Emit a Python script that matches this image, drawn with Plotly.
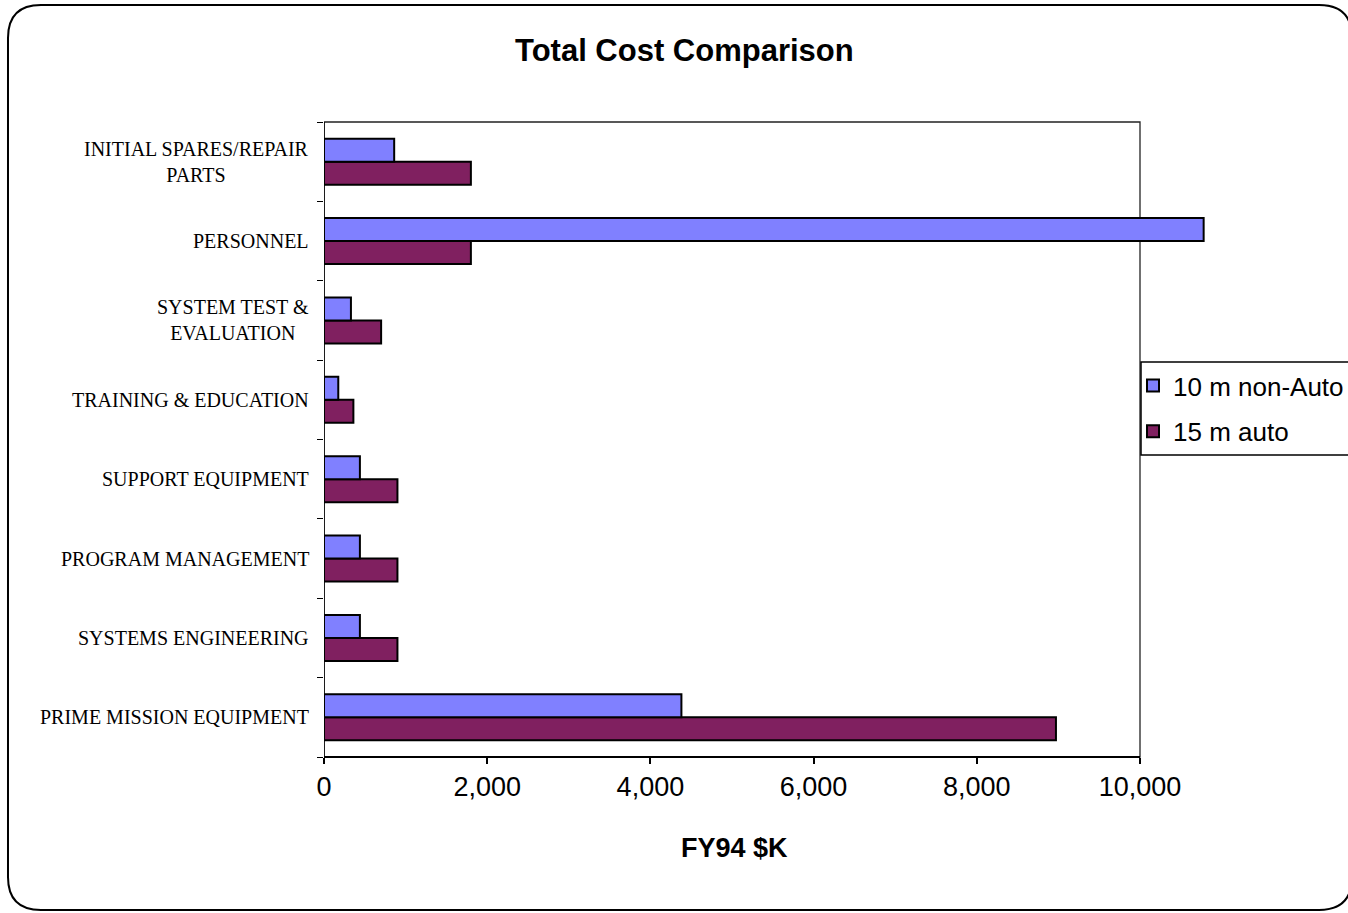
import plotly.graph_objects as go

W, H = 1348, 913

# Categories listed bottom -> top
categories = [
    "PRIME MISSION EQUIPMENT",
    "SYSTEMS ENGINEERING",
    "PROGRAM MANAGEMENT",
    "SUPPORT EQUIPMENT",
    "TRAINING & EDUCATION",
    "SYSTEM TEST &<br>EVALUATION",
    "PERSONNEL",
    "INITIAL SPARES/REPAIR<br>PARTS",
]
non_auto_10m = [4380, 440, 440, 440, 175, 330, 10780, 860]
auto_15m = [8970, 900, 900, 900, 360, 700, 1800, 1800]

series_names = ["10 m non-Auto", "15 m auto"]
x_ticks = [0, 2000, 4000, 6000, 8000, 10000]


def px(x):
    return x / W


def py(y):
    return 1 - y / H


# plot area in reference pixels
PL, PR0, PT, PB = 324, 1140, 122, 757
unit = (PR0 - PL) / 10000.0
XMAX = 11000
PR = PL + unit * XMAX

fig = go.Figure()
fig.add_trace(go.Bar(
    y=categories, x=auto_15m, orientation="h", name=series_names[1],
    marker=dict(color="#802060", line=dict(color="black", width=2)),
    legendrank=2, legendgroup="b",
))
fig.add_trace(go.Bar(
    y=categories, x=non_auto_10m, orientation="h", name=series_names[0],
    marker=dict(color="#8080FF", line=dict(color="black", width=2)),
    legendrank=1, legendgroup="a",
))

# rounded outer border
bx0, by0, bx1, by1, r = 8, 5, 1352, 910, 33
pts = [
    ("M", (bx0, by0 + r)), ("Q", (bx0, by0), (bx0 + r, by0)),
    ("L", (bx1 - r, by0)), ("Q", (bx1, by0), (bx1, by0 + r)),
    ("L", (bx1, by1 - r)), ("Q", (bx1, by1), (bx1 - r, by1)),
    ("L", (bx0 + r, by1)), ("Q", (bx0, by1), (bx0, by1 - r)),
]
path = ""
for item in pts:
    cmd = item[0]
    coords = " ".join(f"{px(a):.5f},{py(b):.5f}" for a, b in item[1:])
    path += f"{cmd}{coords} "
path += "Z"

shapes = [
    dict(type="path", xref="paper", yref="paper", path=path,
         line=dict(color="black", width=2), layer="below"),
    dict(type="rect", xref="x", yref="paper", x0=0, x1=10000,
         y0=py(PB), y1=py(PT), line=dict(color="#222222", width=1.3), layer="below"),
    dict(type="line", xref="x", yref="paper", x0=0, x1=10000,
         y0=py(PB), y1=py(PB), line=dict(color="black", width=2), layer="below"),
    dict(type="line", xref="x", yref="paper", x0=0, x1=0,
         y0=py(PB), y1=py(PT), line=dict(color="black", width=1.5), layer="below"),
    # legend box
    dict(type="rect", xref="paper", yref="paper", x0=px(1141), x1=px(1365),
         y0=py(455), y1=py(362), line=dict(color="black", width=1.5),
         fillcolor="white", layer="above"),
]

annotations = [
    dict(text="<b>Total Cost Comparison</b>", x=px(684), y=py(51), xref="paper", yref="paper",
         showarrow=False, xanchor="center", yanchor="middle",
         font=dict(family="Liberation Sans, Arial", size=31, color="black")),
    dict(text="<b>FY94 $K</b>", x=px(734), y=py(848), xref="paper", yref="paper",
         showarrow=False, xanchor="center", yanchor="middle",
         font=dict(family="Liberation Sans, Arial", size=27, color="black")),
]
for c in categories:
    annotations.append(dict(
        text=c, x=px(311), y=c, xref="paper", yref="y", showarrow=False,
        xanchor="right", yanchor="middle", align="center",
        font=dict(family="Liberation Serif, Times New Roman", size=20, color="black"),
    ))

fig.update_layout(
    width=W, height=H,
    margin=dict(l=0, r=0, t=0, b=0, autoexpand=False),
    paper_bgcolor="white",
    plot_bgcolor="rgba(0,0,0,0)",
    barmode="group",
    bargap=0.42,
    bargroupgap=0,
    showlegend=True,
    legend=dict(
        x=px(1133), y=py(362), xanchor="left", yanchor="top",
        bgcolor="rgba(0,0,0,0)", borderwidth=0,
        font=dict(family="Liberation Sans, Arial", size=26, color="black"),
        traceorder="grouped", tracegroupgap=9,
    ),
    xaxis=dict(
        domain=[px(PL), px(PR)], range=[0, XMAX],
        tickvals=x_ticks, tickformat=",", ticks="outside", ticklen=6,
        tickcolor="black", tickwidth=1.5,
        showgrid=False, zeroline=False, showline=False,
        tickfont=dict(family="Liberation Sans, Arial", size=27, color="black"),
    ),
    yaxis=dict(
        domain=[py(PB), py(PT)],
        type="category", categoryorder="array", categoryarray=categories,
        showticklabels=False, ticks="outside", ticklen=6, tickson="boundaries",
        tickcolor="black", tickwidth=1,
        showgrid=False, zeroline=False, showline=False,
    ),
    shapes=shapes,
    annotations=annotations,
)

fig.write_html(
    "out.html",
    config={"displayModeBar": False},
    post_script="document.body.style.margin='0';document.body.style.overflow='hidden';",
)
